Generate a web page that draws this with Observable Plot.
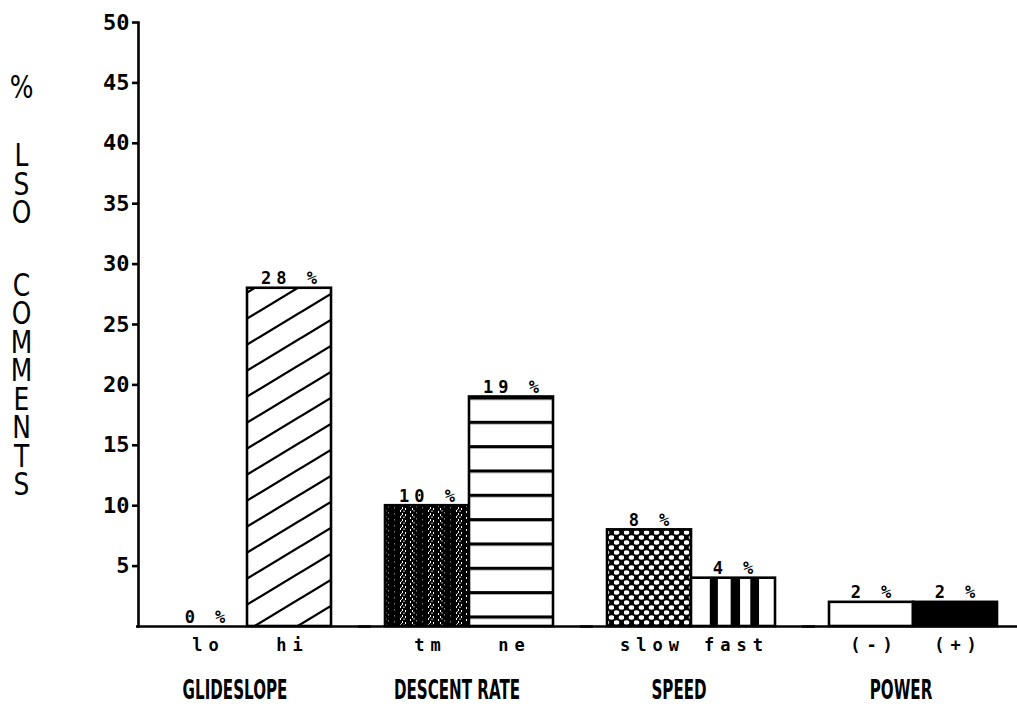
<!DOCTYPE html>
<html><head><meta charset="utf-8">
<script src="https://cdn.jsdelivr.net/npm/d3@7"></script>
<script src="https://cdn.jsdelivr.net/npm/@observablehq/plot@0.6"></script>
<style>
body{margin:0;background:#fff}
#chart{position:relative;width:1017px;height:708px}
g[aria-description="value labels"] text{letter-spacing:5px}
g[aria-description="sub labels"] text{letter-spacing:6px}
</style>
</head><body>
<svg width="0" height="0" style="position:absolute">
<defs>
  <pattern id="p-hatch" patternUnits="userSpaceOnUse" width="43" height="26">
    <rect width="43" height="26" fill="#fff"/>
    <path d="M-43,26L43,-26M0,26L43,0M0,52L86,0" stroke="#000" stroke-width="2.3" fill="none"/>
  </pattern>
  <pattern id="p-noise" patternUnits="userSpaceOnUse" width="28" height="6">
    <rect width="28" height="6" fill="#000"/>
    <rect x="10" y="0" width="1" height="2" fill="#fff"/>
    <rect x="12" y="3" width="1" height="2" fill="#fff"/>
    <rect x="13.5" y="0.5" width="1" height="1.5" fill="#fff"/>
    <rect x="15" y="4" width="1" height="2" fill="#fff"/>
    <rect x="11" y="5" width="1" height="1" fill="#ccc"/>
    <rect x="20" y="1" width="1" height="2" fill="#fff"/>
    <rect x="22" y="4" width="1" height="2" fill="#fff"/>
    <rect x="23.5" y="0" width="1" height="1.5" fill="#ddd"/>
    <rect x="4" y="3" width="0.8" height="1.5" fill="#999"/>
    <rect x="26" y="2" width="0.8" height="1.5" fill="#aaa"/>
  </pattern>
  <pattern id="p-hstripe" patternUnits="objectBoundingBox" width="1" height="0.106">
    <rect width="1000" height="1000" fill="#fff"/>
    <rect width="1000" height="3.2" fill="#000"/>
  </pattern>
  <pattern id="p-dots" patternUnits="userSpaceOnUse" width="10" height="10">
    <rect width="10" height="10" fill="#000"/>
    <ellipse cx="2.5" cy="2.5" rx="2.8" ry="2.2" fill="#fff"/>
    <ellipse cx="7.5" cy="7.5" rx="2.8" ry="2.2" fill="#fff"/>
  </pattern>
  <pattern id="p-vstripe" patternUnits="objectBoundingBox" patternContentUnits="objectBoundingBox" width="1" height="1">
    <rect width="1" height="1" fill="#fff"/>
    <rect x="0.224" width="0.096" height="1" fill="#000"/>
    <rect x="0.472" width="0.112" height="1" fill="#000"/>
    <rect x="0.706" width="0.104" height="1" fill="#000"/>
  </pattern>
</defs></svg>
<div id="chart"></div>
<script>
// ---- data ----
const groups = ["GLIDESLOPE", "DESCENT RATE", "SPEED", "POWER"];
const subLabels = ["lo", "hi", "tm", "ne", "slow", "fast", "(-)", "(+)"];
const subGroup = ["GLIDESLOPE", "GLIDESLOPE", "DESCENT RATE", "DESCENT RATE", "SPEED", "SPEED", "POWER", "POWER"];
const subSlot = ["a", "b", "a", "b", "a", "b", "a", "b"];
const values = [0, 28, 10, 19, 8, 4, 2, 2];
const yTicks = [5, 10, 15, 20, 25, 30, 35, 40, 45, 50];
const yLabelParts = ["%", "L\nS\nO", "C\nO\nM\nM\nE\nN\nT\nS"];

// ---- styles (fill per sub-category) ----
const fillRange = ["#fff", "url(#p-hatch)", "url(#p-noise)", "url(#p-hstripe)",
                   "url(#p-dots)", "url(#p-vstripe)", "#fff", "#000"];

const data = subLabels.map((s, i) => ({sub: s, group: subGroup[i], slot: subSlot[i], value: values[i]}));

const mono = "DejaVu Sans Mono";
const first = [groups[0]];
const yLabelStyle = {fx: d => d, frameAnchor: "top-left", dx: -117, lineAnchor: "middle",
  textAnchor: "middle", lineHeight: 0.89, fontSize: 32, fontFamily: "DejaVu Sans",
  fill: "#000", ariaDescription: "y label"};

const plot = Plot.plot({
  width: 1017,
  height: 708,
  marginTop: 22,
  marginBottom: 82,
  marginLeft: 138,
  marginRight: 0,
  style: {fontFamily: mono, color: "#000", background: "#fff"},
  fx: {domain: groups, paddingInner: 0.129, paddingOuter: 0.038, align: 0, axis: null, label: null},
  x: {domain: ["a", "b"], paddingInner: 0, paddingOuter: 0.148, align: 1, axis: null, label: null},
  y: {domain: [0, 50], axis: null, label: null},
  color: {type: "ordinal", domain: subLabels, range: fillRange},
  marks: [
    Plot.barY(data, {fx: "group", x: "slot", y: "value", fill: "sub", stroke: "#000", strokeWidth: 2.6}),
    Plot.ruleY([0], {stroke: "#000", strokeWidth: 2.6, insetLeft: -2, insetRight: -40}),
    Plot.frame({anchor: "left", facetAnchor: "left", stroke: "#000", strokeWidth: 2.6}),
    Plot.axisY({ticks: yTicks, tickSize: 6, tickPadding: 3, strokeWidth: 2.6, fontSize: 22,
                fontWeight: "bold", fontFamily: mono, label: null, tickFormat: d => String(d)}),
    Plot.text(data, {fx: "group", x: "slot", y: "value", text: d => `${d.value} %`,
                     lineAnchor: "bottom", dy: -4, dx: 2, fontSize: 17, fontWeight: "bold", fontFamily: mono,
                     fill: "#000", ariaDescription: "value labels"}),
    Plot.text(data, {fx: "group", x: "slot", text: "sub", frameAnchor: "bottom", dy: 19, dx: 3,
                     lineAnchor: "middle", fontSize: 17, fontWeight: "bold", fontFamily: mono,
                     fill: "#000", ariaDescription: "sub labels"}),
    Plot.text(groups, {fx: d => d, text: d => d, frameAnchor: "bottom", dy: 64, lineAnchor: "middle",
                       fontSize: 27, fontWeight: "bold", fontFamily: "DejaVu Sans",
                       fill: "#000", ariaDescription: "group labels"}),
    Plot.text(first, {...yLabelStyle, text: () => yLabelParts[0], dy: 66}),
    Plot.text(first, {...yLabelStyle, text: () => yLabelParts[1], dy: 163}),
    Plot.text(first, {...yLabelStyle, text: () => yLabelParts[2], dy: 364})
  ]
});
document.getElementById("chart").appendChild(plot);

// horizontal condensing of the condensed lettering (glyph styling only)
function condense(label, k) {
  plot.querySelectorAll(`g[aria-description="${label}"] text`).forEach(el => {
    let t = el.getAttribute("transform");
    if (!t) {
      const x = +(el.getAttribute("x") || 0), y = +(el.getAttribute("y") || 0);
      el.removeAttribute("x"); el.removeAttribute("y");
      t = `translate(${x},${y})`;
    }
    el.setAttribute("transform", `${t} scale(${k},1)`);
  });
}
condense("group labels", 0.56);
condense("y label", 0.78);
</script>
</body></html>
